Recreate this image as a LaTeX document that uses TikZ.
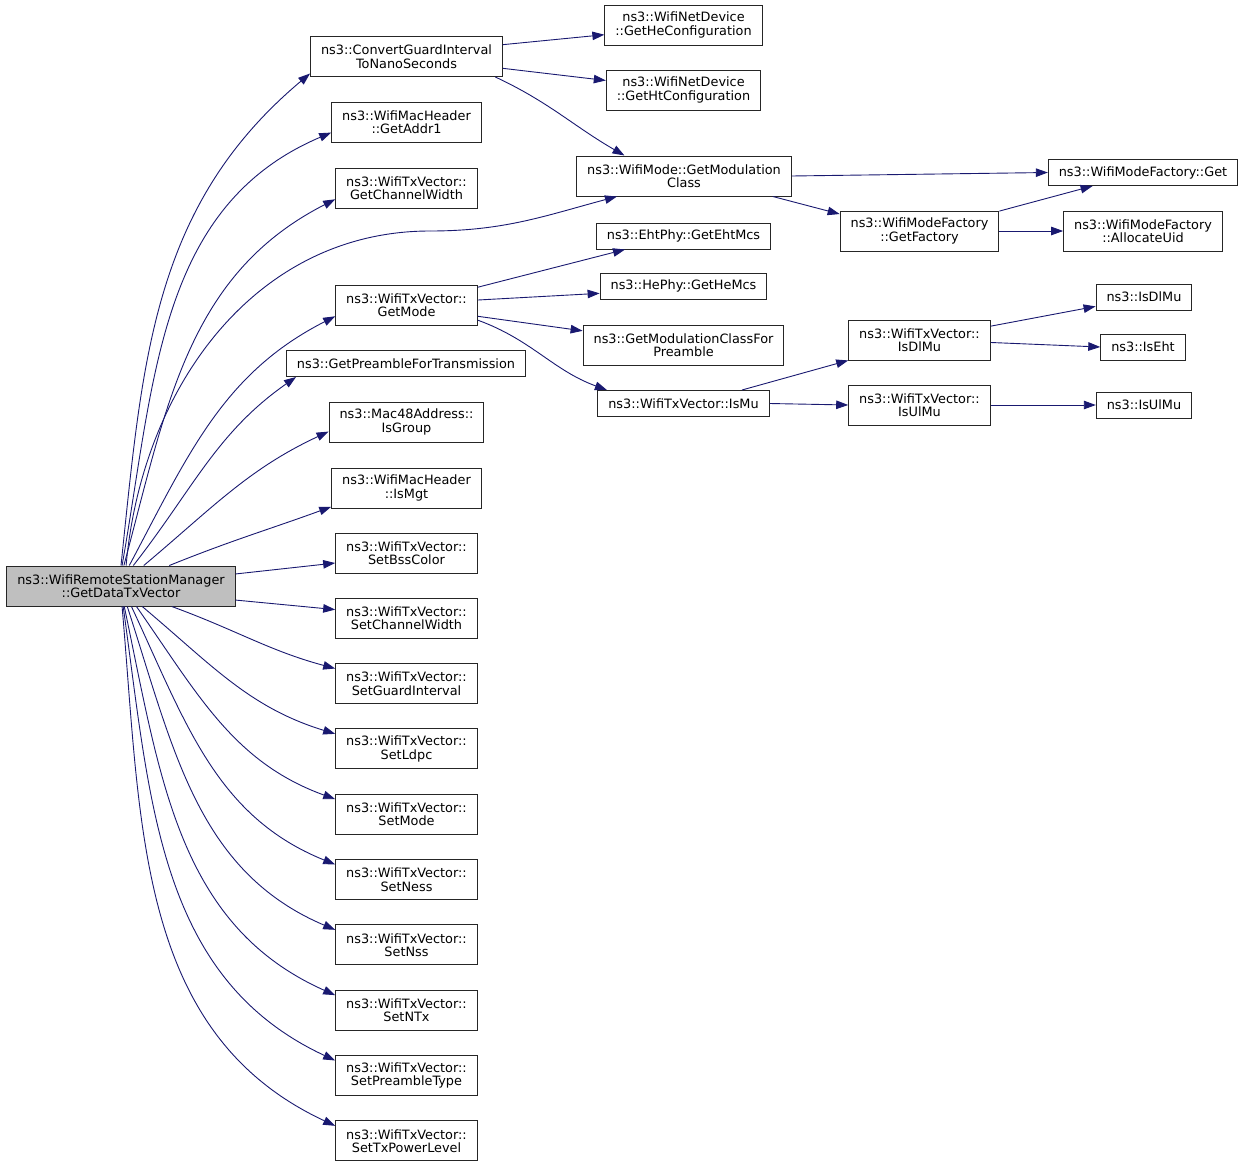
\documentclass[tikz,border=0pt]{standalone}
\usepackage{fontspec}
\setmainfont{DejaVu Sans}
\usepackage{tikz}
\usetikzlibrary{calc,arrows.meta}
\usepackage{xcolor}
\definecolor{edgeblue}{RGB}{25,25,112}
\definecolor{rootgray}{RGB}{191,191,191}
\begin{document}
\begin{tikzpicture}[x=1pt,y=1pt,
box/.style={draw=black!85, line width=1pt, rectangle, align=center, inner xsep=10.5pt, inner ysep=0pt,
  minimum height=40pt, font=\fontsize{12.85}{13.5}\selectfont},
one/.style={minimum height=26pt},
edge/.style={draw=edgeblue, line width=0.9pt, -{Triangle[length=12pt,width=8.5pt]}}]
\useasboundingbox (0,0) rectangle (1245,-1167);
% caller
\node[box, fill=rootgray] (root) at (121,-586) {ns3::WifiRemoteStationManager\\::GetDataTxVector};
% first column
\node[box] (cgi) at (406.5,-56.5) {ns3::ConvertGuardInterval\\ToNanoSeconds};
\node[box] (addr) at (406.5,-122) {ns3::WifiMacHeader\\::GetAddr1};
\node[box] (gchw) at (406.5,-188) {ns3::WifiTxVector::\\GetChannelWidth};
\node[box] (gmode) at (406.5,-305) {ns3::WifiTxVector::\\GetMode};
\node[box, one] (pre) at (406,-363.5) {ns3::GetPreambleForTransmission};
\node[box] (grp) at (406.5,-422) {ns3::Mac48Address::\\IsGroup};
\node[box] (mgt) at (406.5,-488) {ns3::WifiMacHeader\\::IsMgt};
\foreach \nm/\lbl [count=\k from 0] in {bss/SetBssColor, schw/SetChannelWidth, sgi/SetGuardInterval,
  ldpc/SetLdpc, smode/SetMode, ness/SetNess, nss/SetNss, ntx/SetNTx, spre/SetPreambleType, txp/SetTxPowerLevel}
{	\node[box] (\nm) at (406.5,{-553-65.33*\k}) {ns3::WifiTxVector::\\\lbl};
}
% second column
\node[box] (hecfg) at (683.5,-25) {ns3::WifiNetDevice\\::GetHeConfiguration};
\node[box] (htcfg) at (683.5,-90) {ns3::WifiNetDevice\\::GetHtConfiguration};
\node[box] (modcls) at (684,-176) {ns3::WifiMode::GetModulation\\Class};
\node[box, one] (eht) at (683.5,-236) {ns3::EhtPhy::GetEhtMcs};
\node[box, one] (he) at (683.5,-286) {ns3::HePhy::GetHeMcs};
\node[box] (modpre) at (683.5,-345) {ns3::GetModulationClassFor\\Preamble};
\node[box, one] (ismu) at (683.5,-403.5) {ns3::WifiTxVector::IsMu};
% third column
\node[box] (fac) at (919.5,-231) {ns3::WifiModeFactory\\::GetFactory};
\node[box] (dlmuv) at (919.5,-340) {ns3::WifiTxVector::\\IsDlMu};
\node[box] (ulmuv) at (919.5,-405) {ns3::WifiTxVector::\\IsUlMu};
% fourth column
\node[box, one] (fget) at (1143,-172.5) {ns3::WifiModeFactory::Get};
\node[box] (uid) at (1143,-231) {ns3::WifiModeFactory\\::AllocateUid};
\node[box, one] (dlmu) at (1144,-297) {ns3::IsDlMu};
\node[box, one] (iseht) at (1143,-347) {ns3::IsEht};
\node[box, one] (ulmu) at (1144,-405) {ns3::IsUlMu};
% calls out of the caller
\coordinate (bend) at (430,-231);
\draw[edge] (root.90) to[out=84,in=220] (cgi.190);
\draw[edge] (root.87) to[out=80,in=203] (addr.188);
\draw[edge] (root.82) to[out=75,in=207] (gchw.189);
\draw[edge, -] (root.76) to[out=85,in=180] (bend);
\draw[edge] (bend) to[out=0,in=195] (modcls.197);
\draw[edge] (root.68) to[out=62,in=207] (gmode.189);
\draw[edge] (root.59) to[out=52,in=215] (pre.187);
\draw[edge] (root.42) to[out=40,in=205] (grp.187);
\draw[edge] (root.23) to[out=22,in=200] (mgt.194);
\draw[edge] (root.6) -- (bss.188);
\draw[edge] (root.353) -- (schw.173);
\foreach \nm/\a/\o/\i in {sgi/338/-20/165, ldpc/316/-40/163, smode/307/-55/160, ness/297/-65/158,
  nss/287/-72/157, ntx/279/-78/156, spre/276/-82/155, txp/273/-85/155}
{	\draw[edge] (root.\a) to[out=\o,in=\i] (\nm.168);
}
% further calls
\draw[edge] (cgi.7) -- (hecfg.187);
\draw[edge] (cgi.353) -- (htcfg.173);
\draw[edge] (cgi.347) to[out=-25,in=150] (modcls.161);
\draw[edge] (modcls.east) -- (fget.west);
\draw[edge] (modcls.347) -- (fac.168);
\draw[edge] (fac.14) -- (fget.195);
\draw[edge] (fac.east) -- (uid.west);
\draw[edge] (gmode.14) -- (eht.193);
\draw[edge] (gmode.4) -- (he.185);
\draw[edge] (gmode.351) -- (modpre.172);
\draw[edge] (gmode.348) to[out=-20,in=160] (ismu.170);
\draw[edge] (ismu.13) -- (dlmuv.196);
\draw[edge] (ismu.east) -- (ulmuv.west);
\draw[edge] (dlmuv.11) -- (dlmu.191);
\draw[edge] (dlmuv.358) -- (iseht.west);
\draw[edge] (ulmuv.east) -- (ulmu.west);
\end{tikzpicture}
\end{document}
